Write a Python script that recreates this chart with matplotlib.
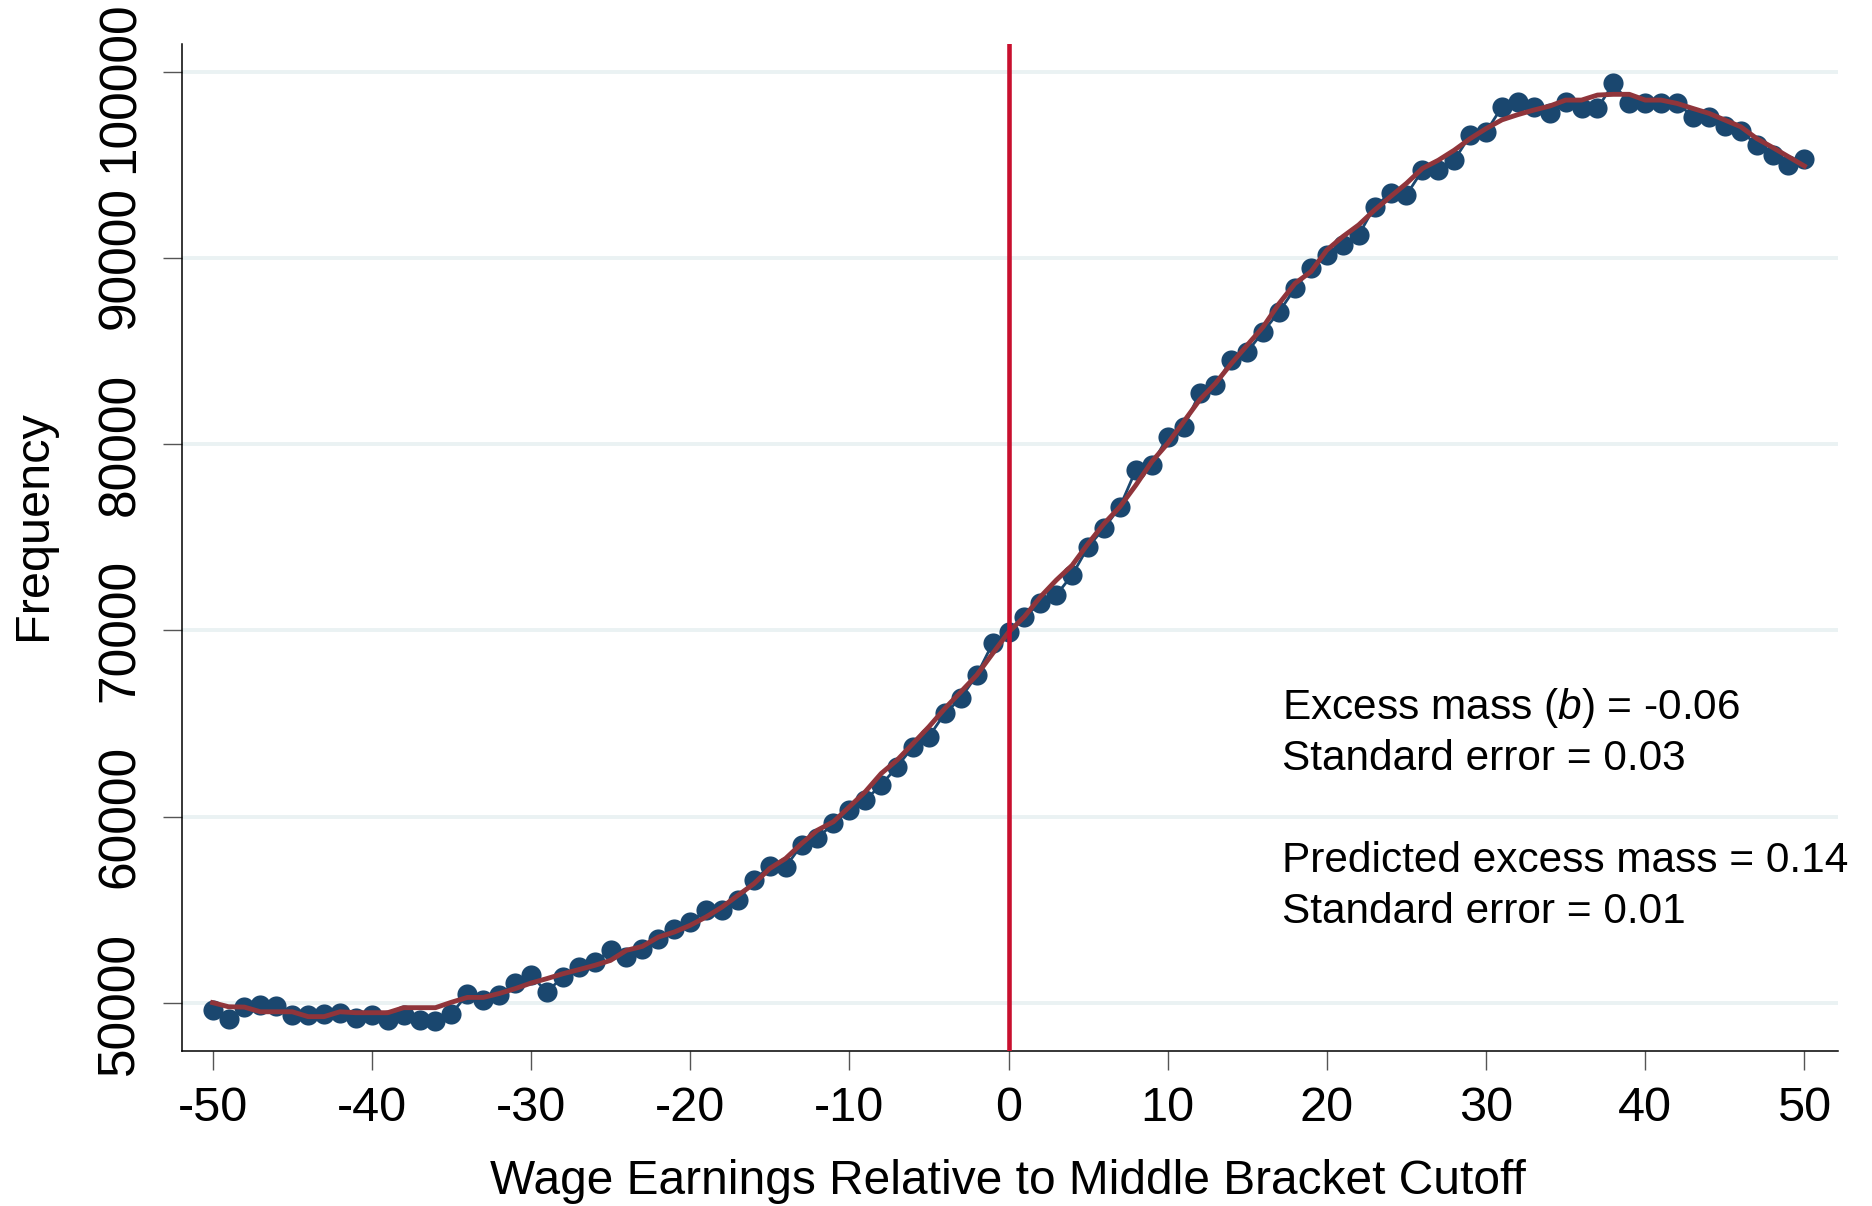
import numpy as np
import matplotlib.pyplot as plt

plt.rcParams['font.family'] = ['Liberation Sans', 'DejaVu Sans']
plt.rcParams['axes.unicode_minus'] = False
plt.rcParams['mathtext.fontset'] = 'custom'
plt.rcParams['mathtext.it'] = 'Liberation Sans:italic'
plt.rcParams['mathtext.rm'] = 'Liberation Sans'

# bins of wage earnings relative to the cutoff
bins = np.arange(-50, 51)

# observed counts per bin
freq = [
    49620, 49150, 49800, 49900, 49820, 49360, 49360, 49410, 49460, 49180,
    49360, 49090, 49360, 49090, 49050, 49410, 50480, 50160, 50420, 51050,
    51480, 50600, 51400, 51930, 52200, 52830, 52470, 52920, 53450, 53990,
    54350, 54970, 54990, 55510, 56580, 57330, 57320, 58480, 58840, 59650,
    60360, 60900, 61700, 62690, 63760, 64300, 65550, 66360, 67600, 69300,
    69930,
    70740, 71460, 71900, 72980, 74490, 75480, 76640, 78610, 78880, 80400,
    80900, 82730, 83180, 84520, 84960, 86040, 87110, 88360, 89440, 90150,
    90690, 91230, 92750, 93460, 93380, 94700, 94700, 95240, 96580, 96760,
    98110, 98380, 98080, 97760, 98380, 98020, 98020, 99370, 98290, 98290,
    98310, 98310, 97580, 97580, 97080, 96830, 96060, 95520, 94980, 95290,
]

# counterfactual fit
fit = [
    50020, 49800, 49780, 49530, 49530, 49530, 49270, 49270, 49530, 49480,
    49480, 49480, 49750, 49750, 49750, 50040, 50300, 50300, 50510, 50770,
    51070, 51310, 51570, 51790, 52020, 52290, 52830, 53040, 53540, 53810,
    54170, 54620, 55150, 55780, 56400, 57220, 57760, 58560, 59280, 59730,
    60530, 61340, 62320, 63040, 63930, 64830, 65810, 66700, 67600, 68760,
    69900,
    70740, 71800, 72700, 73500, 74660, 75730, 76640, 77800, 79060, 80040,
    81200, 82370, 83260, 84330, 85320, 86300, 87550, 88630, 89260, 90420,
    91140, 91770, 92570, 93290, 94000, 94800, 95240, 95780, 96400, 96940,
    97410, 97690, 97935, 98150, 98470, 98470, 98740, 98780, 98780, 98470,
    98470, 98290, 98020, 97760, 97400, 97040, 96410, 95930, 95430, 94930,
]

xticks = [-50, -40, -30, -20, -10, 0, 10, 20, 30, 40, 50]
yticks = [50000, 60000, 70000, 80000, 90000, 100000]

notes = [
    (65835, r'Excess mass ($\mathit{b}$) = -0.06'),
    (63100, 'Standard error = 0.03'),
    (57620, 'Predicted excess mass = 0.14'),
    (54880, 'Standard error = 0.01'),
]

fig = plt.figure(figsize=(18.72, 12.06), dpi=100)
ax = fig.add_axes([0.097, 0.1285, 0.885, 0.835])

for y in yticks:
    ax.axhline(y, color='#eaf2f3', lw=2.8, zorder=0)

ax.plot(bins, freq, color='#1a476f', lw=2, marker='o', ms=14.5,
        markeredgewidth=0, zorder=2)
ax.plot(bins, fit, color='#90353b', lw=3.5, zorder=3)
ax.axvline(0, color='#c8102e', lw=3.3, zorder=4)

ax.set_xlim(-51.95, 52.13)
ax.set_ylim(47423, 101480)
ax.set_xticks(xticks)
ax.set_xticklabels([str(t) for t in xticks], fontsize=35)
ax.set_yticks(yticks)
# top label is drawn separately, a little lower, so it stays inside the figure
ylabels = [str(t) for t in yticks[:-1]] + ['']
ax.set_yticklabels(ylabels, rotation=90, va='center', fontsize=37)
ax.annotate(str(yticks[-1]), xy=(0, yticks[-1]),
            xycoords=('axes fraction', 'data'),
            xytext=(-26.5, -11), textcoords='offset points',
            rotation=90, ha='right', va='center', fontsize=37)

ax.spines['top'].set_visible(False)
ax.spines['right'].set_visible(False)
ax.spines['left'].set_linewidth(1.1)
ax.spines['bottom'].set_linewidth(1.1)
ax.tick_params(axis='both', length=13.5, width=1, color='#555555')
ax.tick_params(axis='x', pad=12)
ax.tick_params(axis='y', pad=13)

ax.set_xlabel('Wage Earnings Relative to Middle Bracket Cutoff', fontsize=34.5,
              va='center')
ax.xaxis.set_label_coords(0.499, -0.130)
ax.set_ylabel('Frequency', fontsize=35, va='center')
ax.yaxis.set_label_coords(-0.0896, 0.522)

for y, s in notes:
    ax.text(17.2, y, s, fontsize=30.5, va='center', ha='left')

fig.savefig('out.png', dpi=100)
